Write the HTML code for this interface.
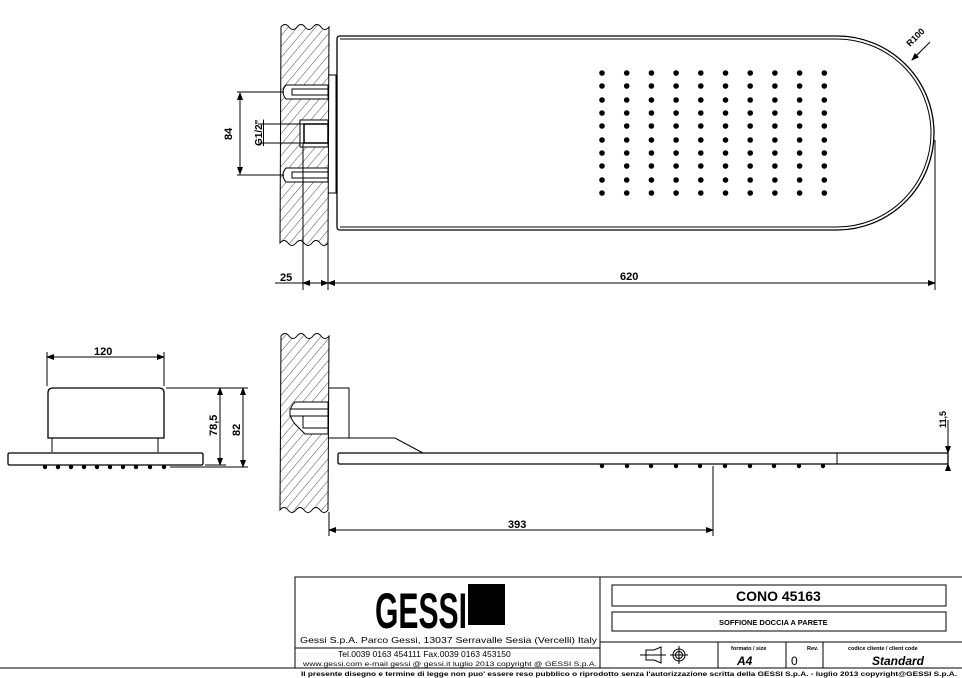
<!DOCTYPE html>
<html><head><meta charset="utf-8"><style>
html,body{margin:0;padding:0;background:#fff;}
svg{display:block;font-family:"Liberation Sans",Arial,sans-serif;}
</style></head><body>
<svg width="962" height="678" viewBox="0 0 962 678" xmlns="http://www.w3.org/2000/svg">
<defs>
<pattern id="h" patternUnits="userSpaceOnUse" width="7" height="7" patternTransform="rotate(40)">
<line x1="0" y1="0" x2="0" y2="7" stroke="#000" stroke-width="0.7"/>
</pattern>
<marker id="a" markerWidth="8" markerHeight="6" refX="7" refY="3" orient="auto-start-reverse" markerUnits="userSpaceOnUse"><path d="M0,0 L8,3 L0,6z" fill="#000"/></marker>
</defs>
<rect width="962" height="678" fill="#fff"/>
<g stroke="#000" fill="none" stroke-width="1">
<!-- top wall -->
<path d="M281,27 q4,-5 8,0 q4,5 8,0 q4,-5 8,0 q4,5 8,0 q4,-5 8,0 q4,5 8,0 L328,243 q-4,5 -8,0 q-4,-5 -8,0 q-4,5 -8,0 q-4,-5 -8,0 q-4,5 -8,0 q-4,-5 -8,0 Z" fill="url(#h)"/>
<path d="M286,85 h42 v14 h-42 q-6,-7 0,-14z M286,168 h42 v14 h-42 q-6,-7 0,-14z M300,120 h28 v27 h-28 z" fill="#fff"/>
<rect x="292" y="89" width="36" height="6" fill="#fff"/><rect x="292" y="172" width="36" height="6" fill="#fff"/>
<rect x="304" y="124" width="24" height="19" fill="#fff" stroke-width="1.5"/>
<path d="M328,75 h8 v118 h-8"/>
<!-- plate top -->
<path d="M340,36 H837 A97,97 0 0 1 837,230 H340 Q337,230 337,227 V39 Q337,36 340,36Z" stroke-width="1.3"/>
<path d="M340,39 H837 A94,94 0 0 1 837,227 H340"/>
<line x1="935" y1="140" x2="935" y2="290"/>
<!-- dims top -->
<line x1="237" y1="92" x2="284" y2="92"/><line x1="237" y1="175" x2="284" y2="175"/>
<line x1="240" y1="93" x2="240" y2="174" marker-start="url(#a)" marker-end="url(#a)"/>
<line x1="258" y1="124" x2="304" y2="124"/><line x1="258" y1="143" x2="304" y2="143"/>
<line x1="303" y1="143" x2="303" y2="290"/><line x1="328" y1="243" x2="328" y2="290"/>
<line x1="275" y1="283" x2="303" y2="283"/>
<line x1="303" y1="283" x2="328" y2="283" marker-start="url(#a)" marker-end="url(#a)"/>
<line x1="328" y1="283" x2="935" y2="283" marker-start="url(#a)" marker-end="url(#a)"/>
<line x1="912" y1="60" x2="930" y2="42"/>
<line x1="912" y1="60" x2="920" y2="52" marker-start="url(#a)"/>
<!-- side view left -->
<path d="M48,438 V393 Q48,388 53,388 H159 Q164,388 164,393 V438 Z" stroke-width="1.3"/>
<path d="M52,438 V452 M158,438 V452"/>
<rect x="8" y="453" width="195" height="12" rx="1.5" stroke-width="1.3"/>
<line x1="47" y1="386" x2="47" y2="352"/><line x1="164" y1="386" x2="164" y2="352"/>
<line x1="47" y1="357" x2="164" y2="357" marker-start="url(#a)" marker-end="url(#a)"/>
<line x1="166" y1="388" x2="248" y2="388"/><line x1="205" y1="465" x2="226" y2="465"/><line x1="170" y1="467" x2="248" y2="467"/>
<line x1="220" y1="388" x2="220" y2="465" marker-start="url(#a)" marker-end="url(#a)"/>
<line x1="243" y1="388" x2="243" y2="467" marker-start="url(#a)" marker-end="url(#a)"/>
<!-- side view right -->
<path d="M281,336 q4,-5 8,0 q4,5 8,0 q4,-5 8,0 q4,5 8,0 q4,-5 8,0 q4,5 8,0 L328,510 q-4,5 -8,0 q-4,-5 -8,0 q-4,5 -8,0 q-4,-5 -8,0 q-4,5 -8,0 q-4,-5 -8,0 Z" fill="url(#h)"/>
<path d="M328,402 H295 q-10,10 0,22 L305,434 H328 Z" fill="#fff"/>
<rect x="290" y="409" width="38" height="7" fill="#fff"/>
<rect x="303" y="416" width="25" height="12" fill="#fff"/>
<path d="M329,388 H349 V438 H329"/>
<path d="M329,438 H395 L423,453"/>
<rect x="338" y="453" width="610" height="11" rx="1.5" stroke-width="1.3"/>
<line x1="837" y1="453" x2="837" y2="464"/>
<line x1="713" y1="466" x2="713" y2="536"/>
<line x1="329" y1="512" x2="329" y2="536"/>
<line x1="329" y1="530" x2="713" y2="530" marker-start="url(#a)" marker-end="url(#a)"/>
<line x1="948" y1="420" x2="948" y2="470"/>
<line x1="948" y1="446" x2="948" y2="453" marker-end="url(#a)"/><line x1="948" y1="471" x2="948" y2="464" marker-end="url(#a)"/>
<!-- title block -->
<rect x="295" y="577" width="668" height="91"/>
<line x1="600" y1="577" x2="600" y2="668"/>
<rect x="612" y="585" width="334" height="21"/>
<rect x="612" y="612" width="334" height="19"/>
<line x1="600" y1="642" x2="962" y2="642"/>
<line x1="295" y1="648" x2="600" y2="648"/>
<line x1="718" y1="642" x2="718" y2="668"/><line x1="786" y1="642" x2="786" y2="668"/><line x1="823" y1="642" x2="823" y2="668"/>
<line x1="0" y1="668" x2="962" y2="668"/>
<path d="M646,650 h8 l7,-3 v16 l-7,-3 h-8z M640,655 h26"/>
<circle cx="679" cy="655" r="6"/><circle cx="679" cy="655" r="3.5"/><path d="M670,655 h18 M679,646 v18"/>
</g>
<!-- holes -->
<g fill="#000">
<g id="col">
<circle cx="602" cy="73" r="2.8"/><circle cx="602" cy="86" r="2.8"/><circle cx="602" cy="100" r="2.8"/><circle cx="602" cy="113" r="2.8"/><circle cx="602" cy="126" r="2.8"/><circle cx="602" cy="140" r="2.8"/><circle cx="602" cy="153" r="2.8"/><circle cx="602" cy="166" r="2.8"/><circle cx="602" cy="180" r="2.8"/><circle cx="602" cy="193" r="2.8"/>
</g>
<use href="#col" x="24.7"/><use href="#col" x="49.4"/><use href="#col" x="74.1"/><use href="#col" x="98.8"/><use href="#col" x="123.5"/><use href="#col" x="148.2"/><use href="#col" x="172.9"/><use href="#col" x="197.6"/><use href="#col" x="222.3"/>
<circle cx="45" cy="467" r="2.2"/><circle cx="58" cy="467" r="2.2"/><circle cx="71" cy="467" r="2.2"/><circle cx="84" cy="467" r="2.2"/><circle cx="97" cy="467" r="2.2"/><circle cx="110" cy="467" r="2.2"/><circle cx="123" cy="467" r="2.2"/><circle cx="136" cy="467" r="2.2"/><circle cx="150" cy="467" r="2.2"/><circle cx="164" cy="467" r="2.2"/>
<circle cx="602" cy="466" r="2.2"/><circle cx="627" cy="466" r="2.2"/><circle cx="651" cy="466" r="2.2"/><circle cx="676" cy="466" r="2.2"/><circle cx="700" cy="466" r="2.2"/><circle cx="725" cy="466" r="2.2"/><circle cx="750" cy="466" r="2.2"/><circle cx="774" cy="466" r="2.2"/><circle cx="799" cy="466" r="2.2"/><circle cx="823" cy="466" r="2.2"/>
<!-- logo -->
<text x="375" y="628" font-size="50" font-weight="bold" textLength="92" lengthAdjust="spacingAndGlyphs">GESSI</text>
<rect x="468" y="584" width="37" height="41"/>
</g>
<g font-weight="bold" fill="#000" font-size="10">
<text x="232" y="140" transform="rotate(-90 232 140)" font-size="11">84</text>
<text x="262" y="146" transform="rotate(-90 262 146)" font-size="10" text-decoration="underline">G1/2"</text>
<text x="280" y="281" font-size="11">25</text>
<text x="620" y="280" font-size="11">620</text>
<text x="910" y="47" transform="rotate(-45 910 47)" font-size="9">R100</text>
<text x="94" y="355" font-size="11">120</text>
<text x="217" y="436" transform="rotate(-90 217 436)" font-size="11">78,5</text>
<text x="240" y="436" transform="rotate(-90 240 436)" font-size="11">82</text>
<text x="508" y="528" font-size="11">393</text>
<text x="946" y="428" transform="rotate(-90 946 428)" font-size="9">11,5</text>
<text x="736" y="601" font-size="14">CONO  45163</text>
<text x="719" y="625" font-size="7.5">SOFFIONE DOCCIA A PARETE</text>
<text x="300" y="643" font-size="8.5" font-weight="normal" textLength="297" lengthAdjust="spacingAndGlyphs">Gessi S.p.A. Parco Gessi, 13037 Serravalle Sesia (Vercelli) Italy</text>
<text x="338" y="657" font-size="8.5" font-weight="normal">Tel.0039  0163  454111  Fax.0039  0163  453150</text>
<text x="303" y="666" font-size="6" font-weight="normal" textLength="294" lengthAdjust="spacingAndGlyphs">www.gessi.com  e-mail  gessi @ gessi.it     luglio  2013     copyright @ GESSI  S.p.A.</text>
<text x="731" y="650" font-size="5.5">formato / size</text>
<text x="807" y="650" font-size="5.5">Rev.</text>
<text x="848" y="650" font-size="5.5">codice cliente / client code</text>
<text x="737" y="665" font-size="12" font-style="italic">A4</text>
<text x="791" y="665" font-size="12" font-weight="normal">0</text>
<text x="872" y="665" font-size="12" font-style="italic">Standard</text>
<text x="301" y="676" font-size="6" textLength="656" lengthAdjust="spacingAndGlyphs">Il presente disegno e termine di legge non puo' essere reso pubblico o riprodotto senza l'autorizzazione scritta della GESSI S.p.A. - luglio 2013 copyright@GESSI S.p.A.</text>
</g>
</svg>
</body></html>
